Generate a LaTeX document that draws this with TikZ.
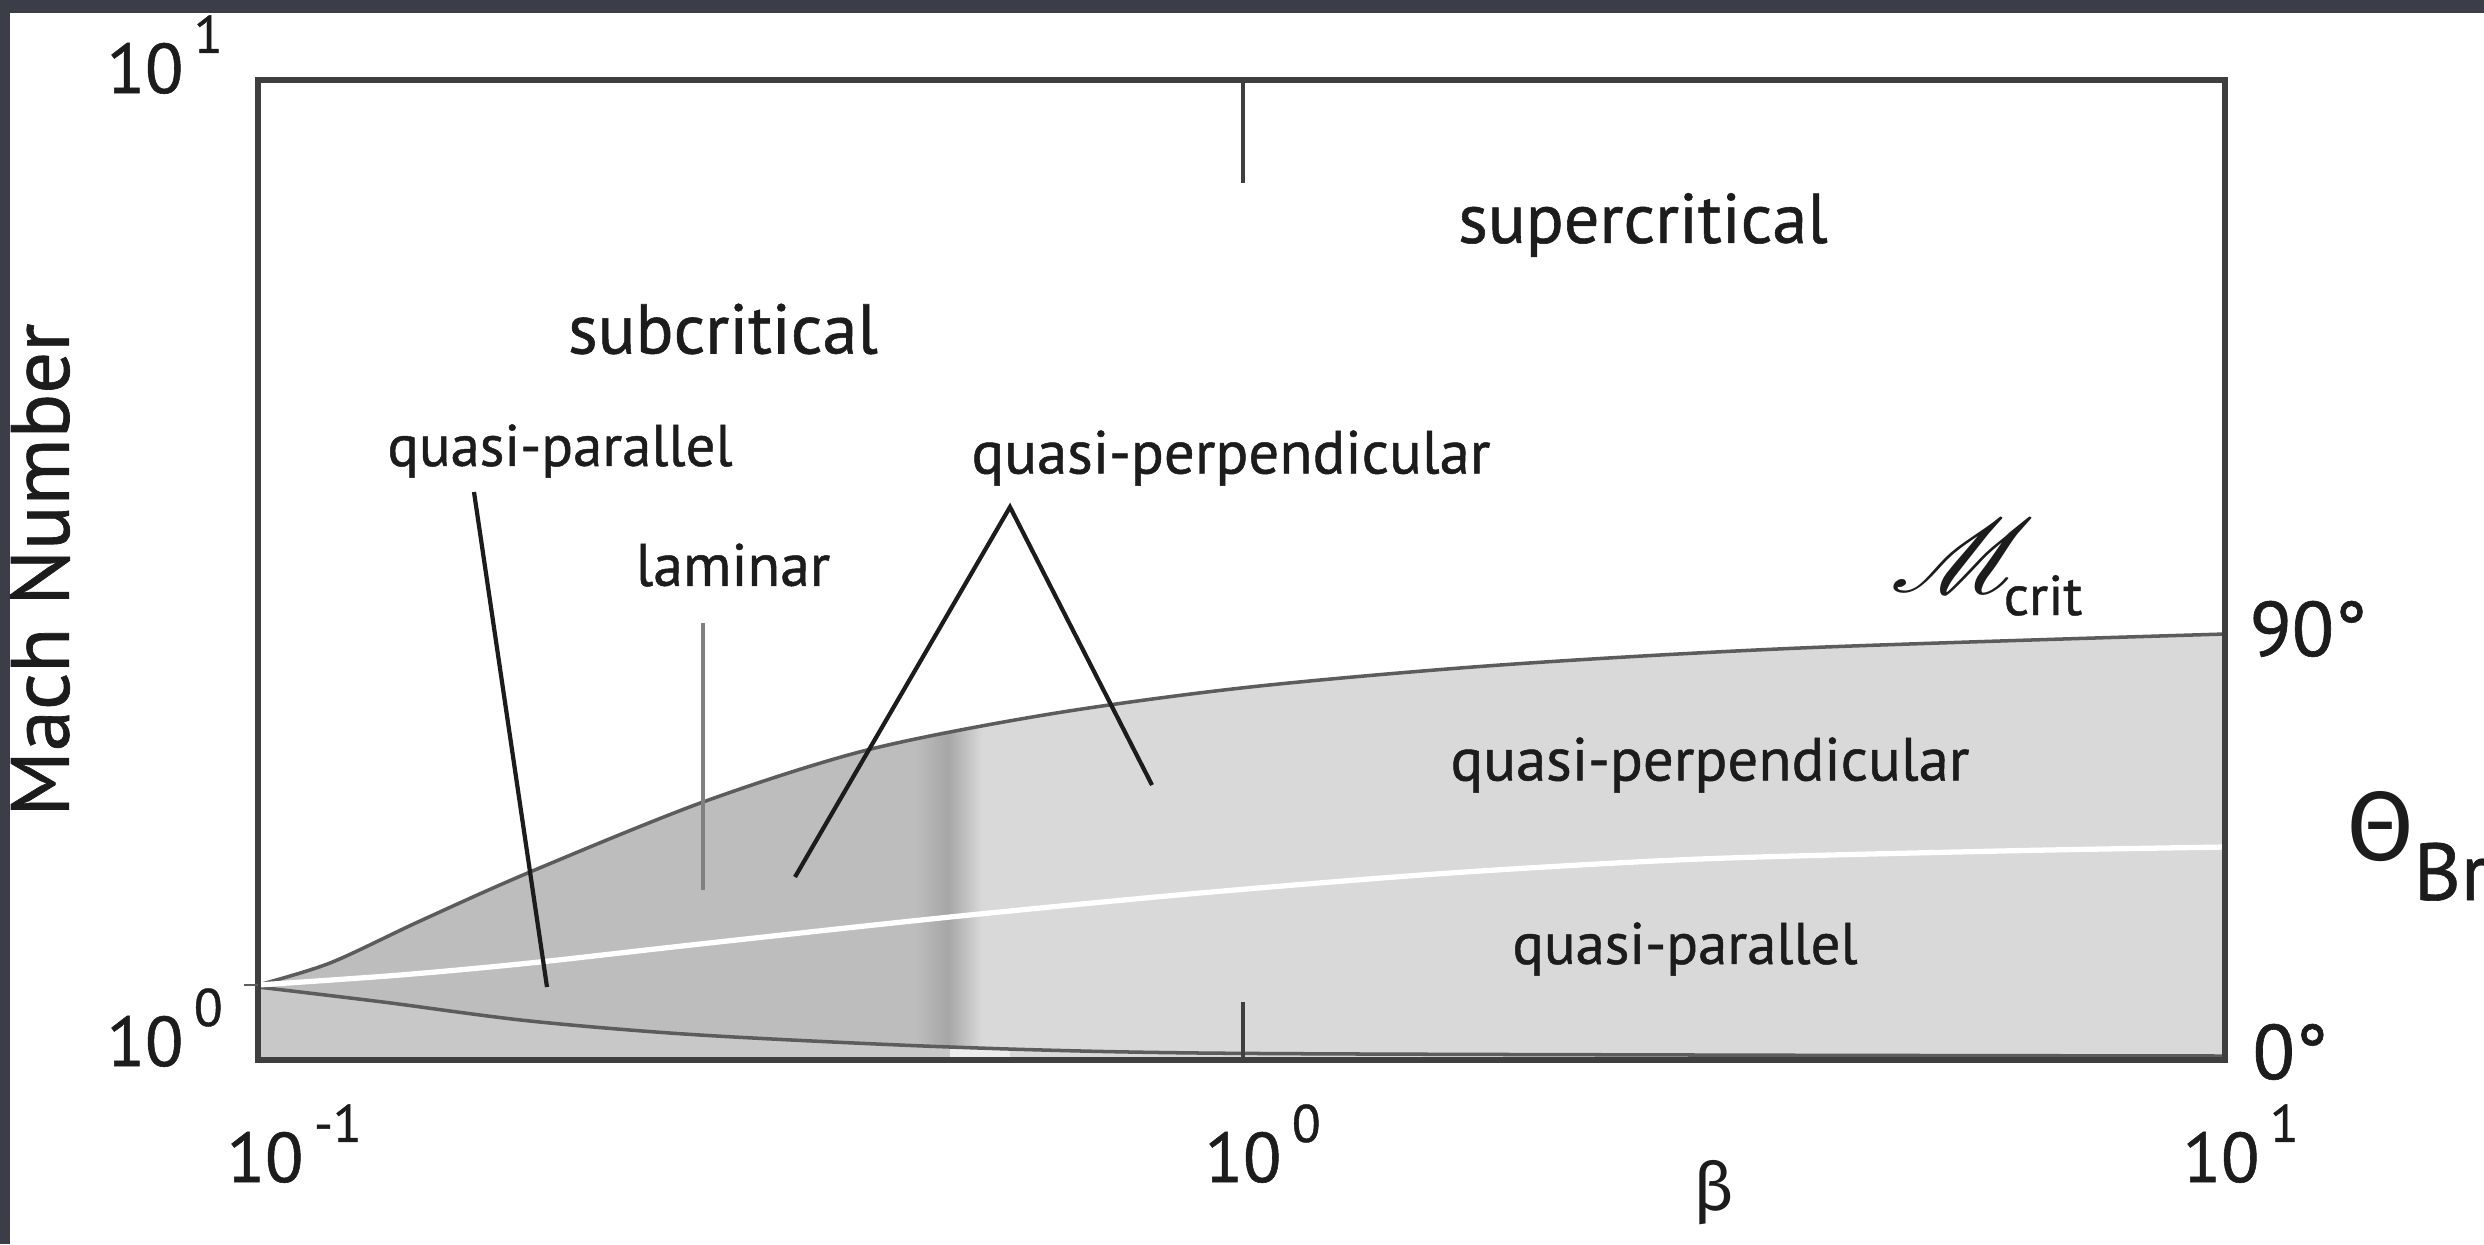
\documentclass[tikz,border=0pt]{standalone}
\usepackage{graphicx}
\usepackage{fontspec}
\usepackage{mathrsfs}
\setmainfont{PT Sans}[FakeBold=0.8]
\newfontfamily\greekfont{Fira Sans}
\usetikzlibrary{positioning}

\definecolor{screen}{HTML}{3B3E47}
\definecolor{axisline}{HTML}{3F3F3F}
\definecolor{edgegray}{HTML}{5C5C5C}
\definecolor{banddark}{HTML}{BDBDBD}
\definecolor{bandlight}{HTML}{D9D9D9}
\definecolor{floorgray}{HTML}{C8C8C8}
\definecolor{ink}{HTML}{1C1C1C}

\newcommand{\decade}[1]{10\kern3pt\raisebox{11.4pt}{\fontsize{15}{15}\selectfont#1}}

\begin{document}
\begin{tikzpicture}[
  x=0.01cm, y=-0.01cm,
  region/.style={inner sep=0pt,text=ink,font=\fontsize{20}{24}\selectfont},
  regime/.style={inner sep=0pt,text=ink,font=\fontsize{17}{20}\selectfont},
  axistext/.style={inner sep=0pt,text=ink,font=\fontsize{20}{24}\selectfont},
  leader/.style={ink,line width=1.2pt},
  boundary/.style={edgegray,line width=1pt}
]
  \useasboundingbox (0,0) rectangle (2484,1244);
  % screenshot frame and page
  \fill[screen] (0,0) rectangle (2484,1244);
  \fill[white] (10,13) rectangle (2484,1244);

  % shaded band between the critical curve and the lower curve
  \begin{scope}
    \clip plot[smooth] coordinates {(258,985) (330,963) (420,921) (530,872) (703,802) (867,750) (1050,714) (1250,687) (1500,665) (1800,648) (2225,634)}
      -- plot[smooth] coordinates {(2225,1056) (1700,1055) (1200,1053) (950,1047) (700,1035) (530,1021) (383,1002) (258,987)} -- cycle;
    \fill[banddark] (258,600) rectangle (915,1070);
    \shade[left color=banddark,right color=banddark!88!black] (915,600) rectangle (948,1070);
    \shade[left color=banddark!88!black,right color=bandlight] (948,600) rectangle (982,1070);
    \fill[bandlight] (982,600) rectangle (2225,1070);
  \end{scope}
  \begin{scope}
    \clip plot[smooth] coordinates {(258,987) (383,1002) (530,1021) (700,1035) (950,1047) (1200,1053) (1700,1055) (2225,1056)}
      -- (2225,1062) -- (258,1062) -- cycle;
    \fill[floorgray] (258,980) rectangle (950,1062);
    \fill[white!93!black] (950,980) rectangle (1010,1062);
    \fill[bandlight] (1010,980) rectangle (2225,1062);
  \end{scope}

  \draw[boundary] plot[smooth] coordinates {(258,985) (330,963) (420,921) (530,872) (703,802) (867,750) (1050,714) (1250,687) (1500,665) (1800,648) (2225,634)};
  \draw[boundary] plot[smooth] coordinates {(258,987) (383,1002) (530,1021) (700,1035) (950,1047) (1200,1053) (1700,1055) (2225,1056)};
  \draw[white,line width=1.5pt] plot[smooth] coordinates {(258,985) (400,975) (530,963) (700,944) (950,917) (1200,893) (1450,873) (1700,859) (2000,851) (2225,847)};

  % axes box and the two ticks at beta = 1
  \draw[axisline,line width=1.6pt] (258,80) rectangle (2225,1060);
  \draw[axisline,line width=1pt] (1243,80) -- (1243,183) (1243,1002) -- (1243,1060);
  \draw[edgegray,line width=.8pt] (244,985) -- (258,985);

  % region names
  \node[region] (super) at (1643,225) {supercritical};
  \node[region] (sub) at (723,329) {subcritical};
  \node[regime,font=\fontsize{16.7}{20}\selectfont] (qpar) at (560,451) {quasi-parallel};
  \node[regime] (lam) at (733,565) {laminar};
  \node[regime,font=\fontsize{17.3}{20}\selectfont] (qperp) at (1231,458) {quasi-perpendicular};
  \node[regime,font=\fontsize{17.3}{20}\selectfont] (qperpband) at (1710,765) {quasi-perpendicular};
  \node[regime,font=\fontsize{16.7}{20}\selectfont] (qparband) at (1685,949) {quasi-parallel};
  \node[inner sep=0pt,text=ink,anchor=base west,font=\fontsize{24}{28}\selectfont] (mcrit) at (1890,592) {\scalebox{1.33}[1.2]{$\mathscr{M}$}};
  \node[regime,anchor=base west,font=\fontsize{16}{19}\selectfont] (crit) at (2003,615) {crit};

  % axes labels
  \node[axistext,rotate=90,font=\fontsize{23.5}{27}\selectfont] (mach) at (40,570) {Mach Number};
  \node[axistext,anchor=base west] (ytop) at (106,93) {\decade{1}};
  \node[axistext,anchor=base west] (ybot) at (106,1066) {\decade{0}};
  \node[axistext,anchor=base west] (xleft) at (226,1182) {\decade{-1}};
  \node[axistext,anchor=base west] (xmid) at (1204,1182) {\decade{0}};
  \node[axistext,anchor=base west] (xright) at (2182,1182) {\decade{1}};
  \node[axistext,font=\greekfont\fontsize{19}{23}\selectfont] (beta) at (1714,1193) {β};
  \node[axistext,anchor=base west,font=\fontsize{22}{26}\selectfont] (ninety) at (2249,656) {90°};
  \node[axistext,anchor=base west,font=\fontsize{22}{26}\selectfont] (zero) at (2252,1079) {0°};
  \node[axistext,font=\greekfont\fontsize{28}{32}\selectfont] (theta) at (2381,827) {Θ};
  \node[axistext,anchor=base west,font=\fontsize{23}{27}\selectfont] (br) at (2413,900) {Br};

  % leaders
  \coordinate (qpar-top) at (474,492);
  \coordinate (qpar-end) at (547,987);
  \coordinate (lam-top) at (703,623);
  \coordinate (lam-end) at (703,890);
  \coordinate (qperp-top) at (1010,507);
  \coordinate (qperp-left) at (795,877);
  \coordinate (qperp-right) at (1152,785);
  \draw[leader] (qpar-top) -- (qpar-end);
  \draw[leader,color=gray] (lam-top) -- (lam-end);
  \draw[leader] (qperp-left) -- (qperp-top) -- (qperp-right);
\end{tikzpicture}
\end{document}
